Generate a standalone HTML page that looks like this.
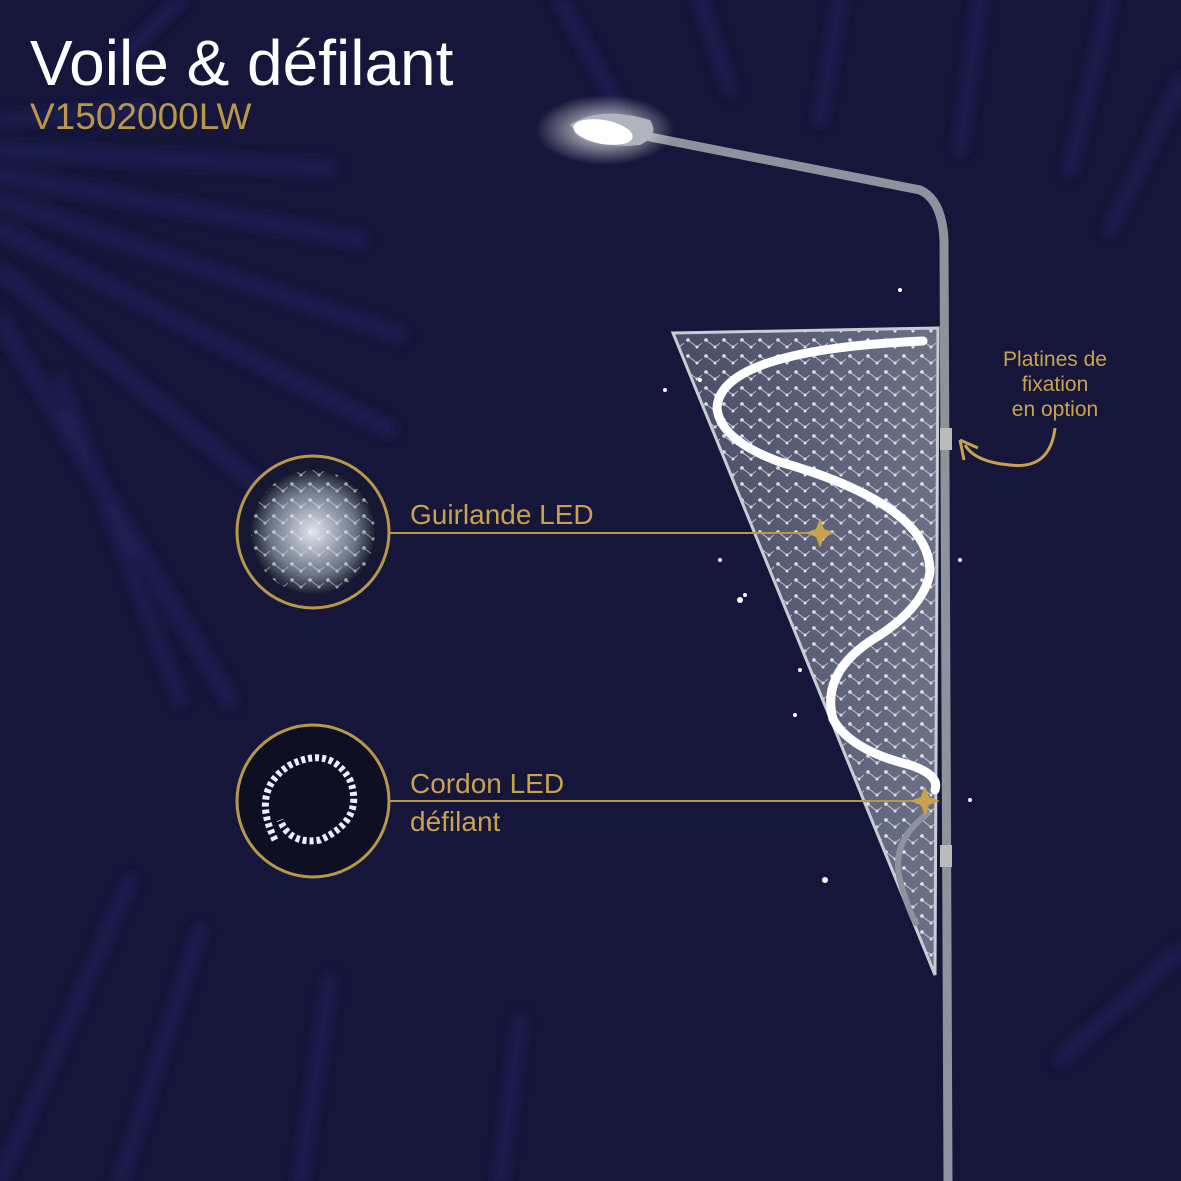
<!DOCTYPE html>
<html><head><meta charset="utf-8"><style>
html,body{margin:0;padding:0;background:#15163a;}
body{width:1181px;height:1181px;overflow:hidden;position:relative;font-family:"Liberation Sans",sans-serif;}
svg{position:absolute;left:0;top:0}
</style></head><body>
<svg width="1181" height="1181" viewBox="0 0 1181 1181">
<defs>
<radialGradient id="glow" cx="0.5" cy="0.5" r="0.5"><stop offset="0" stop-color="#fff" stop-opacity="0.9"/><stop offset="1" stop-color="#fff" stop-opacity="0"/></radialGradient>
<radialGradient id="ball" cx="0.5" cy="0.5" r="0.5"><stop offset="0" stop-color="#dfe4ec"/><stop offset="0.7" stop-color="#6a7488"/><stop offset="1" stop-color="#1a1d30"/></radialGradient>
<linearGradient id="sail" x1="0" y1="0" x2="1" y2="0"><stop offset="0" stop-color="#5a5e72"/><stop offset="1" stop-color="#8a8e9e"/></linearGradient>
<pattern id="sp" width="18" height="16" patternUnits="userSpaceOnUse"><circle cx="4" cy="4" r="1.8" fill="#fff"/><circle cx="13" cy="11" r="1.5" fill="#fff"/><line x1="4" y1="4" x2="13" y2="11" stroke="#e0e4f0" stroke-width="0.8"/><line x1="13" y1="11" x2="22" y2="4" stroke="#e0e4f0" stroke-width="0.8"/></pattern>
<filter id="bl"><feGaussianBlur stdDeviation="6"/></filter>
</defs>
<rect width="1181" height="1181" fill="#15163a"/>
<g stroke="#20245f" stroke-linecap="round" opacity="0.7" filter="url(#bl)">
<line x1="0" y1="150" x2="330" y2="168" stroke-width="14"/>
<line x1="0" y1="175" x2="360" y2="240" stroke-width="14"/>
<line x1="0" y1="200" x2="400" y2="335" stroke-width="14"/>
<line x1="0" y1="230" x2="390" y2="430" stroke-width="14"/>
<line x1="0" y1="270" x2="300" y2="520" stroke-width="14"/>
<line x1="0" y1="320" x2="230" y2="700" stroke-width="14"/>
<line x1="60" y1="380" x2="180" y2="700" stroke-width="12"/>
<line x1="0" y1="120" x2="150" y2="110" stroke-width="12"/>
<line x1="180" y1="0" x2="120" y2="60" stroke-width="12"/>
<line x1="560" y1="0" x2="620" y2="110" stroke-width="12"/>
<line x1="700" y1="0" x2="730" y2="90" stroke-width="12"/>
<line x1="840" y1="0" x2="820" y2="120" stroke-width="12"/>
<line x1="980" y1="0" x2="960" y2="150" stroke-width="12"/>
<line x1="1110" y1="0" x2="1070" y2="170" stroke-width="12"/>
<line x1="1181" y1="80" x2="1110" y2="230" stroke-width="12"/>
<line x1="0" y1="1181" x2="130" y2="880" stroke-width="12"/>
<line x1="120" y1="1181" x2="200" y2="930" stroke-width="12"/>
<line x1="300" y1="1181" x2="330" y2="980" stroke-width="12"/>
<line x1="500" y1="1181" x2="520" y2="1020" stroke-width="12"/>
<line x1="1181" y1="950" x2="1060" y2="1060" stroke-width="12"/>
</g>
<text x="30" y="85" fill="#ffffff" font-size="64" font-family="Liberation Sans">Voile &amp; défilant</text>
<text x="30" y="129" fill="#b8974a" font-size="37" font-family="Liberation Sans">V1502000LW</text>
<!-- pole -->
<path d="M948 1181 L944 240 Q942 200 920 190 L640 135" fill="none" stroke="#8d939c" stroke-width="9"/>
<ellipse cx="605" cy="130" rx="70" ry="35" fill="url(#glow)"/>
<path d="M570 125 Q600 105 650 120 Q660 135 640 145 Q595 150 570 125Z" fill="#b0b5bc"/>
<ellipse cx="603" cy="132" rx="30" ry="12" fill="#fff" transform="rotate(10 603 132)"/>
<rect x="940" y="428" width="12" height="22" fill="#bbb"/>
<rect x="940" y="845" width="12" height="22" fill="#bbb"/>
<!-- sail -->
<polygon points="673,333 938,328 935,975" fill="url(#sail)" opacity="0.75"/>
<polygon points="673,333 938,328 935,975" fill="url(#sp)" opacity="0.85"/>
<polygon points="673,333 938,328 935,975" fill="none" stroke="#c8ccd4" stroke-width="3"/>
<path d="M923 341 Q720 350 717 408 Q720 440 780 462 Q930 505 930 572 Q925 605 880 635 Q820 670 833 719 Q850 750 910 765 Q940 775 935 790" fill="none" stroke="#fff" stroke-width="9" stroke-linecap="round"/>
<path d="M930 812 Q890 840 900 880 Q908 910 917 925" fill="none" stroke="#8e929e" stroke-width="6"/>
<g fill="#fff">
<circle cx="700" cy="380" r="2"/><circle cx="720" cy="560" r="2"/><circle cx="740" cy="600" r="3"/><circle cx="795" cy="715" r="2"/><circle cx="825" cy="880" r="3"/><circle cx="970" cy="800" r="2"/><circle cx="960" cy="560" r="2"/><circle cx="900" cy="290" r="2"/><circle cx="665" cy="390" r="2"/><circle cx="745" cy="595" r="2"/><circle cx="800" cy="670" r="2"/>
</g>
<!-- callouts -->
<line x1="390" y1="533" x2="820" y2="533" stroke="#b8974a" stroke-width="2"/>
<line x1="390" y1="801" x2="925" y2="801" stroke="#b8974a" stroke-width="2"/>
<path d="M820 518 L824 529 L835 533 L824 537 L820 548 L816 537 L805 533 L816 529Z" fill="#c9a24e"/>
<path d="M925 786 L929 797 L940 801 L929 805 L925 816 L921 805 L910 801 L921 797Z" fill="#c9a24e"/>
<circle cx="313" cy="532" r="76" fill="#151733" stroke="#b8974a" stroke-width="3"/>
<circle cx="313" cy="532" r="62" fill="url(#ball)"/>
<circle cx="313" cy="532" r="62" fill="url(#sp)" opacity="0.6"/>
<circle cx="313" cy="801" r="76" fill="#0e0f22" stroke="#b8974a" stroke-width="3"/>
<path d="M275 840 Q250 790 290 765 Q330 745 350 780 Q365 820 320 840 Q290 845 280 820" fill="none" stroke="#e8f0ff" stroke-width="7" stroke-dasharray="4 3"/>
<text x="410" y="524" fill="#c9a24e" font-size="28">Guirlande LED</text>
<text x="410" y="793" fill="#c9a24e" font-size="28">Cordon LED</text>
<text x="410" y="831" fill="#c9a24e" font-size="28">défilant</text>
<text x="1055" y="366" fill="#c9a24e" font-size="21" text-anchor="middle">Platines de</text>
<text x="1055" y="391" fill="#c9a24e" font-size="21" text-anchor="middle">fixation</text>
<text x="1055" y="416" fill="#c9a24e" font-size="21" text-anchor="middle">en option</text>
<path d="M1055 428 Q1050 470 1010 465 Q975 462 965 445" fill="none" stroke="#c9a24e" stroke-width="3"/>
<path d="M960 440 L964 460 M960 440 L978 448" fill="none" stroke="#c9a24e" stroke-width="3"/>
</svg>
</body></html>
